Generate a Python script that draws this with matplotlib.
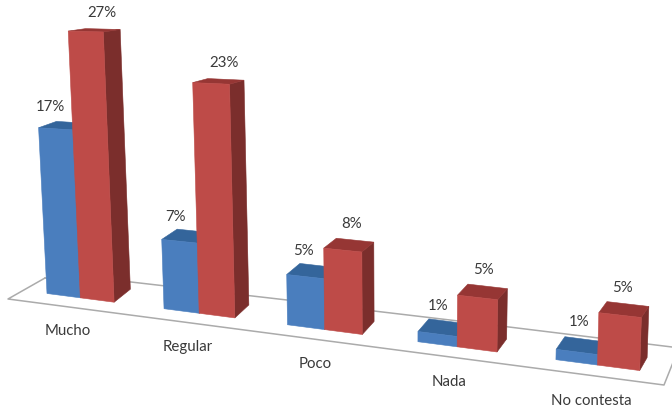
import matplotlib
matplotlib.use('Agg')
import matplotlib.pyplot as plt

plt.rcParams['font.family'] = ['Lato', 'DejaVu Sans']

categories = ['Mucho', 'Regular', 'Poco', 'Nada', 'No contesta']
blue_values = [17, 7, 5, 1, 1]
red_values = [27, 23, 8, 5, 5]

BLUE = ('#4A7EBE', '#34659B', '#2F5A8A')
RED = ('#BE4B48', '#963634', '#7B2E2C')
TEXT = '#3A3A3A'
FLOOR = '#ABABAB'
BAR_W = 0.29


# hand tuned perspective: group, offset along the group (in bars), depth (0-1), value
def corner(i, off, d, v):
    t = i + off * BAR_W
    x = 47 + 114 * t / (1 - 0.026 * t)
    y = 293.5 + 0.13 * (x - 47)
    x += d * (17.5 - 2.2 * t)
    y -= d * 13 * (1 - 0.03 * v)
    y -= v * (9.75 + 0.15 * i + 0.13 * off)
    x = 400 + (x - 400) * (1 + 0.0014 * v)
    return x, y


def draw_bar(ax, i, off, v, colors):
    front, top, side = colors
    faces = [
        ([(off + 1, 0, 0), (off + 1, 1, 0), (off + 1, 1, v), (off + 1, 0, v)], side),
        ([(off, 0, v), (off + 1, 0, v), (off + 1, 1, v), (off, 1, v)], top),
        ([(off, 0, 0), (off + 1, 0, 0), (off + 1, 0, v), (off, 0, v)], front),
    ]
    for pts, col in faces:
        xy = [corner(i, o, d, h) for o, d, h in pts]
        ax.fill([p[0] for p in xy], [p[1] for p in xy], color=col, lw=0.4, zorder=2)


fig = plt.figure(figsize=(6.72, 4.13), dpi=100)
ax = fig.add_axes([0, 0, 1, 1])
ax.set_xlim(0, 672)
ax.set_ylim(413, 0)
ax.axis('off')

# floor of the chart
ax.plot([45, 8, 664, 674], [278, 299, 385, 360], color=FLOOR, lw=1.1, zorder=1)
ax.plot([45, 131, 287, 374, 509, 672], [278, 282, 300, 311, 327, 347], color=FLOOR, lw=1.1, zorder=1)

for i, name in enumerate(categories):
    draw_bar(ax, i, 0, blue_values[i], BLUE)
    draw_bar(ax, i, 1, red_values[i], RED)

    x, y = corner(i, 0.5, 0, blue_values[i])
    ax.text(x - 5.3 + 1.8 * i, y - 22 - 2 * i, '%d%%' % blue_values[i], color=TEXT,
            fontsize=10.8, ha='center', va='center', zorder=3)
    x, y = corner(i, 1.5, 1, red_values[i])
    ax.text(x - 1 - i, y - 16, '%d%%' % red_values[i], color=TEXT,
            fontsize=10.8, ha='center', va='center', zorder=3)

    x, y = corner(i, 1, 0, 0)
    ax.text(x - 13 + 1.7 * i, y + 33.5 + 0.6 * i, name, color=TEXT, fontsize=10.8,
            ha='center', va='center', zorder=3)

fig.savefig('out.png', dpi=100)
